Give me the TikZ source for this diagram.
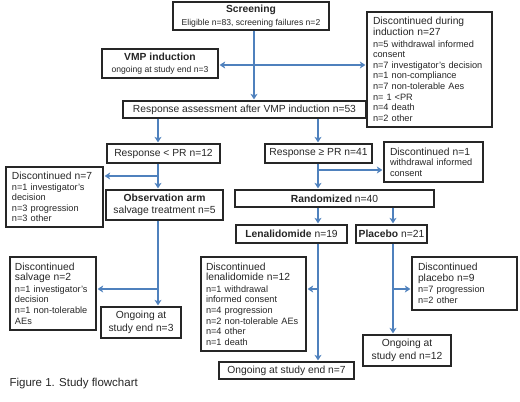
\documentclass[tikz,border=0pt]{standalone}
\usepackage{fontspec}
\setmainfont{Liberation Sans}
\usetikzlibrary{arrows, arrows.meta, positioning}
\definecolor{flowblue}{RGB}{79,129,189}
\newcommand{\mainsize}{\fontsize{10.3}{12.4}\selectfont}
\newcommand{\smallsize}{\fontsize{9.2}{10.6}\selectfont}
\newcommand{\subsize}{\fontsize{8.6}{10.5}\selectfont}

\begin{document}
\begin{tikzpicture}[>={Stealth[length=5.5pt,width=7pt,inset=1.5pt]}, x=1pt, y=-1pt,
    box/.style={draw=black!85, line width=1.3pt, rectangle, inner sep=0pt, text=black!85, font=\mainsize, align=center},
    disc/.style={box, align=left, font=\smallsize},
    flow/.style={->, color=flowblue, line width=1.1pt, shorten >=1pt}]
        \useasboundingbox (0,0) rectangle (520,402);
        % boxes
        \node[box, minimum width=156, minimum height=28] (screen) at (251,16) {{\bfseries Screening}\\{\subsize Eligible n=83, screening failures n=2}};
        \node[box, minimum width=116, minimum height=29] (vmp) at (160,63.5) {{\bfseries VMP induction}\\{\subsize ongoing at study end n=3}};
        \node[disc, minimum width=125, minimum height=115, text width=113] (disc1) at (429.5,69.5) {{\mainsize Discontinued during\\induction n=27}\\[1pt]n=5 withdrawal informed\\consent\\n=7 investigator's decision\\n=1 non-compliance\\n=7 non-tolerable Aes\\n= 1 <PR\\n=4 death\\n=2 other};
        \node[box, minimum width=243, minimum height=17] (resp) at (244.5,109.5) {Response assessment after VMP induction n=53};
        \node[box, minimum width=113, minimum height=19] (ltpr) at (163.5,153.5) {Response < PR n=12};
        \node[box, minimum width=107, minimum height=19] (gepr) at (318.5,153.5) {Response ≥ PR n=41};
        \node[disc, minimum width=99, minimum height=40, text width=87] (disc2) at (433.5,162) {{\mainsize Discontinued n=1}\\withdrawal informed\\consent};
        \node[box, minimum width=117, minimum height=30] (obs) at (164.5,205) {{\bfseries Observation arm}\\salvage treatment n=5};
        \node[disc, minimum width=97, minimum height=60, text width=85] (disc3) at (54.5,197) {{\mainsize Discontinued n=7}\\n=1 investigator's\\decision\\n=3 progression\\n=3 other};
        \node[box, minimum width=199, minimum height=17] (rand) at (334.5,198.5) {{\bfseries Randomized} n=40};
        \node[box, minimum width=111, minimum height=18] (lena) at (291.5,234) {{\bfseries Lenalidomide} n=19};
        \node[box, minimum width=71, minimum height=18] (plac) at (391.5,234) {{\bfseries Placebo} n=21};
        \node[disc, minimum width=86, minimum height=73, text width=76] (disc4) at (53,293.5) {{\mainsize Discontinued\\salvage n=2}\\[1pt]n=1 investigator's\\decision\\n=1 non-tolerable\\AEs};
        \node[box, minimum width=80, minimum height=31] (ong3) at (141,322.5) {Ongoing at\\study end n=3};
        \node[disc, minimum width=105, minimum height=94, text width=95] (disc5) at (253.5,304) {{\mainsize Discontinued\\lenalidomide n=12}\\[1pt]n=1 withdrawal\\informed consent\\n=4 progression\\n=2 non-tolerable AEs\\n=4 other\\n=1 death};
        \node[box, minimum width=135, minimum height=17] (ong7) at (286.5,370.5) {Ongoing at study end n=7};
        \node[disc, minimum width=105, minimum height=53, text width=93] (disc6) at (464.5,283.5) {{\mainsize Discontinued\\placebo n=9}\\[1pt]n=7 progression\\n=2 other};
        \node[box, minimum width=88, minimum height=31] (ong12) at (407,350.5) {Ongoing at\\study end n=12};
        \node[anchor=west, text=black!85, font=\fontsize{11.5}{13}\selectfont] (caption) at (6,384) {Figure 1. Study flowchart};
        % columns and branch points
        \coordinate (colS) at (254,0);
        \coordinate (colL) at (158,0);
        \coordinate (colR) at (318,0);
        \coordinate (colP) at (393,0);
        \coordinate (j1) at (254,65);
        \coordinate (j2) at (158,176);
        \coordinate (j3) at (158,289);
        \coordinate (j4) at (318,170);
        \coordinate (j5) at (318,289);
        \coordinate (j6) at (393,289);
        \path[flow]
        (screen.south -| colS) edge (resp.north -| colS)
        (j1) edge (vmp.east |- j1)
        (j1) edge (disc1.west |- j1)
        (resp.south -| colL) edge (ltpr.north -| colL)
        (resp.south -| colR) edge (gepr.north -| colR)
        (ltpr.south -| colL) edge (obs.north -| colL)
        (j2) edge (disc3.east |- j2)
        (obs.south -| colL) edge (ong3.north -| colL)
        (j3) edge (disc4.east |- j3)
        (gepr.south -| colR) edge (rand.north -| colR)
        (j4) edge (disc2.west |- j4)
        (rand.south -| colR) edge (lena.north -| colR)
        (rand.south -| colP) edge (plac.north -| colP)
        (lena.south -| colR) edge (ong7.north -| colR)
        (j5) edge (disc5.east |- j5)
        (plac.south -| colP) edge (ong12.north -| colP)
        (j6) edge (disc6.west |- j6)
        ;
    \end{tikzpicture}
\end{document}
